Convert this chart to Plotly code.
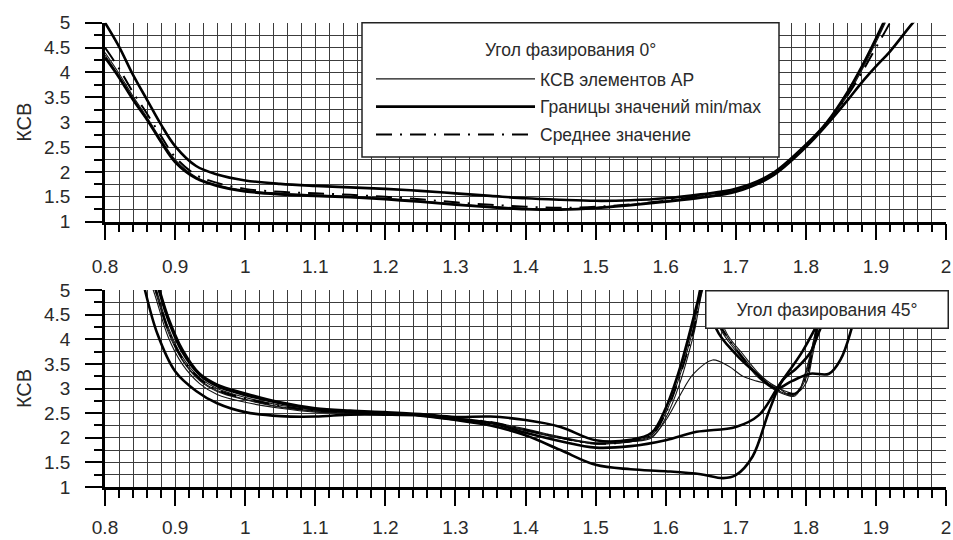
import plotly.graph_objects as go

# ---------------- data ----------------
# Top panel (phase angle 0°)
x_top = [0.80, 0.82, 0.84, 0.86, 0.88, 0.90, 0.93, 0.96, 1.00, 1.05, 1.10, 1.15, 1.20, 1.25,
         1.30, 1.35, 1.40, 1.45, 1.50, 1.55, 1.60, 1.65, 1.70, 1.75, 1.80, 1.83, 1.86, 1.88,
         1.90, 1.92, 1.95, 1.98]
top_elem_1 = [4.40, 3.98, 3.52, 3.10, 2.65, 2.25, 1.90, 1.74, 1.63, 1.57, 1.54, 1.51, 1.47, 1.42,
              1.36, 1.31, 1.27, 1.26, 1.29, 1.35, 1.42, 1.50, 1.62, 1.92, 2.52, 2.98, 3.55, 4.05,
              4.60, 5.20, 6.10, 7.00]
top_elem_2 = [4.35, 3.93, 3.48, 3.07, 2.62, 2.22, 1.88, 1.73, 1.62, 1.56, 1.53, 1.50, 1.46, 1.41,
              1.35, 1.30, 1.26, 1.25, 1.28, 1.34, 1.41, 1.52, 1.64, 1.94, 2.55, 3.00, 3.60, 4.10,
              4.65, 5.25, 6.20, 7.10]
top_max = [5.00, 4.52, 3.95, 3.45, 2.95, 2.52, 2.12, 1.95, 1.83, 1.76, 1.72, 1.69, 1.66, 1.62,
           1.57, 1.52, 1.47, 1.44, 1.42, 1.43, 1.47, 1.55, 1.66, 1.95, 2.55, 3.00, 3.62, 4.12,
           4.68, 5.28, 6.25, 7.20]
top_min = [4.30, 3.90, 3.45, 3.05, 2.60, 2.20, 1.87, 1.72, 1.61, 1.55, 1.52, 1.49, 1.45, 1.40,
           1.34, 1.29, 1.25, 1.24, 1.27, 1.33, 1.40, 1.48, 1.60, 1.90, 2.50, 2.95, 3.45, 3.80,
           4.12, 4.42, 4.95, 5.45]
top_mean = [4.50, 4.08, 3.60, 3.17, 2.72, 2.30, 1.94, 1.78, 1.66, 1.60, 1.57, 1.54, 1.50, 1.45,
            1.39, 1.34, 1.30, 1.28, 1.30, 1.35, 1.42, 1.52, 1.64, 1.93, 2.53, 2.98, 3.55, 4.00,
            4.50, 5.00, 5.90, 6.80]

# Bottom panel (phase angle 45°)
x_bot_e = [0.85, 0.87, 0.89, 0.91, 0.935, 0.96, 1.00, 1.05, 1.10, 1.15, 1.20, 1.25, 1.30, 1.35,
           1.40, 1.45, 1.50, 1.55, 1.58, 1.60, 1.62, 1.64, 1.657, 1.675, 1.69, 1.71, 1.73, 1.75,
           1.77, 1.785, 1.80, 1.81, 1.82, 1.835]
bot_elem_1 = [5.90, 5.15, 4.25, 3.65, 3.22, 3.00, 2.82, 2.66, 2.56, 2.52, 2.50, 2.47, 2.40, 2.32,
              2.18, 2.02, 1.90, 1.95, 2.10, 2.60, 3.35, 4.35, 5.40, 4.30, 3.95, 3.60, 3.25, 3.02,
              2.88, 2.85, 3.30, 3.90, 4.60, 5.50]
bot_elem_2 = [5.80, 5.05, 4.15, 3.58, 3.16, 2.94, 2.77, 2.62, 2.54, 2.51, 2.49, 2.46, 2.39, 2.30,
              2.15, 2.00, 1.88, 1.93, 2.05, 2.50, 3.25, 4.25, 5.30, 4.40, 4.00, 3.65, 3.30, 3.05,
              2.90, 2.88, 3.20, 3.80, 4.50, 5.40]
bot_elem_3 = [5.70, 4.95, 4.05, 3.50, 3.10, 2.88, 2.72, 2.60, 2.52, 2.50, 2.48, 2.45, 2.38, 2.30,
              2.14, 1.99, 1.88, 1.92, 2.00, 2.40, 3.10, 4.10, 5.10, 4.50, 4.05, 3.70, 3.35, 3.10,
              2.95, 2.90, 3.10, 3.70, 4.40, 5.30]
bot_mean = [5.85, 5.10, 4.20, 3.62, 3.20, 2.97, 2.80, 2.65, 2.55, 2.52, 2.49, 2.46, 2.39, 2.32,
            2.16, 2.00, 1.88, 1.93, 2.06, 2.50, 3.25, 4.20, 5.20, 4.35, 4.00, 3.62, 3.28, 3.05,
            2.92, 2.90, 3.22, 3.80, 4.50, 5.40]

x_bot_hump = [0.85, 0.87, 0.89, 0.91, 0.935, 0.96, 1.00, 1.05, 1.10, 1.15, 1.20, 1.25, 1.30, 1.35,
              1.40, 1.45, 1.50, 1.55, 1.58, 1.60, 1.62, 1.64, 1.667, 1.69, 1.71, 1.73, 1.757, 1.78,
              1.79, 1.80, 1.81, 1.82, 1.835]
bot_elem_hump = [5.80, 5.10, 4.20, 3.60, 3.18, 2.96, 2.78, 2.63, 2.54, 2.51, 2.49, 2.46, 2.39, 2.31,
                 2.16, 2.00, 1.88, 1.92, 2.02, 2.35, 2.85, 3.30, 3.58, 3.45, 3.25, 3.15, 3.04, 2.85,
                 2.95, 3.35, 3.90, 4.55, 5.50]

x_bot_min = [0.845, 0.857, 0.875, 0.90, 0.93, 0.96, 1.00, 1.05, 1.10, 1.15, 1.20, 1.25, 1.30, 1.35,
             1.40, 1.45, 1.50, 1.55, 1.60, 1.65, 1.682, 1.70, 1.724, 1.748, 1.767, 1.786, 1.806,
             1.82, 1.84, 1.86]
bot_min = [5.80, 5.00, 4.10, 3.35, 2.95, 2.70, 2.52, 2.44, 2.43, 2.47, 2.47, 2.45, 2.36, 2.25,
           2.05, 1.75, 1.45, 1.36, 1.32, 1.26, 1.18, 1.24, 1.62, 2.56, 3.17, 3.40, 3.72, 4.19,
           4.80, 5.50]

x_bot_mid = [0.85, 0.87, 0.89, 0.91, 0.935, 0.96, 1.00, 1.05, 1.10, 1.15, 1.20, 1.25, 1.30, 1.35,
             1.40, 1.45, 1.50, 1.55, 1.60, 1.644, 1.70, 1.733, 1.762, 1.795, 1.82, 1.845]
bot_mid = [6.00, 5.30, 4.40, 3.75, 3.28, 3.05, 2.87, 2.70, 2.58, 2.53, 2.50, 2.46, 2.37, 2.30,
           2.10, 1.93, 1.80, 1.83, 1.95, 2.12, 2.22, 2.46, 3.07, 3.75, 4.40, 5.10]

x_bot_max = [0.85, 0.87, 0.89, 0.91, 0.935, 0.96, 1.00, 1.05, 1.10, 1.15, 1.20, 1.25, 1.30, 1.35,
             1.40, 1.45, 1.50, 1.55, 1.58, 1.60, 1.62, 1.645, 1.657, 1.672, 1.70, 1.73, 1.757,
             1.78, 1.806, 1.833, 1.85, 1.866, 1.88, 1.90]
bot_max = [6.10, 5.35, 4.45, 3.80, 3.30, 3.08, 2.90, 2.72, 2.60, 2.55, 2.52, 2.48, 2.42, 2.43,
           2.36, 2.22, 1.95, 1.96, 2.10, 2.60, 3.40, 4.73, 5.40, 4.22, 3.70, 3.30, 3.00, 3.15,
           3.30, 3.30, 3.60, 4.25, 5.00, 6.00]

x_tick_vals = [0.8, 0.9, 1.0, 1.1, 1.2, 1.3, 1.4, 1.5, 1.6, 1.7, 1.8, 1.9, 2.0]
x_tick_text = ["0.8", "0.9", "1", "1.1", "1.2", "1.3", "1.4", "1.5", "1.6", "1.7", "1.8", "1.9", "2"]
y_tick_vals = [1, 1.5, 2, 2.5, 3, 3.5, 4, 4.5, 5]
y_tick_text = ["1", "1.5", "2", "2.5", "3", "3.5", "4", "4.5", "5"]

legend_title = "Угол фазирования 0°"
label_elem = "КСВ элементов АР"
label_minmax = "Границы значений min/max"
label_mean = "Среднее значение"
label_45 = "Угол фазирования 45°"
y_title = "КСВ"

# ---------------- figure ----------------
W, H = 953, 540
ML, MR = 105, 7
PW = W - ML - MR


def px_x(p):
    """pixel column -> plot-area paper fraction"""
    return (p - ML) / PW


def px_y(p):
    """pixel row -> paper fraction (no top/bottom margins)"""
    return 1 - p / H


FONT = "Liberation Sans, Arial, sans-serif"
TXT = "#2a2a2a"
THIN = dict(color="#151515", width=1.1, shape="spline")
THICK = dict(color="#000000", width=2.6, shape="spline")
MEAN = dict(color="#000000", width=2.0, dash="16px,8px,2px,8px", shape="spline")

fig = go.Figure()

# top panel
fig.add_trace(go.Scatter(x=x_top, y=top_elem_1, mode="lines", line=THIN, name=label_elem,
                         legendgroup="a", showlegend=True, xaxis="x", yaxis="y"))
fig.add_trace(go.Scatter(x=x_top, y=top_elem_2, mode="lines", line=THIN, name=label_elem,
                         legendgroup="a", showlegend=False, xaxis="x", yaxis="y"))
fig.add_trace(go.Scatter(x=x_top, y=top_max, mode="lines", line=THICK, name=label_minmax,
                         legendgroup="b", showlegend=True, xaxis="x", yaxis="y"))
fig.add_trace(go.Scatter(x=x_top, y=top_min, mode="lines", line=THICK, name=label_minmax,
                         legendgroup="b", showlegend=False, xaxis="x", yaxis="y"))
fig.add_trace(go.Scatter(x=x_top, y=top_mean, mode="lines", line=MEAN, name=label_mean,
                         legendgroup="c", showlegend=True, xaxis="x", yaxis="y"))

# bottom panel
for yy in [bot_elem_1, bot_elem_2, bot_elem_3]:
    fig.add_trace(go.Scatter(x=x_bot_e, y=yy, mode="lines", line=THIN, showlegend=False,
                             xaxis="x2", yaxis="y2"))
fig.add_trace(go.Scatter(x=x_bot_hump, y=bot_elem_hump, mode="lines", line=THIN,
                         showlegend=False, xaxis="x2", yaxis="y2"))
fig.add_trace(go.Scatter(x=x_bot_e, y=bot_mean, mode="lines", line=MEAN, showlegend=False,
                         xaxis="x2", yaxis="y2"))
fig.add_trace(go.Scatter(x=x_bot_min, y=bot_min, mode="lines", line=THICK, showlegend=False,
                         xaxis="x2", yaxis="y2"))
fig.add_trace(go.Scatter(x=x_bot_mid, y=bot_mid, mode="lines", line=THICK, showlegend=False,
                         xaxis="x2", yaxis="y2"))
fig.add_trace(go.Scatter(x=x_bot_max, y=bot_max, mode="lines", line=THICK, showlegend=False,
                         xaxis="x2", yaxis="y2"))

GRID = "#3c3c3c"


def x_axis(standoff):
    return dict(
        range=[0.8, 2.0], tickmode="array", tickvals=x_tick_vals, ticktext=x_tick_text,
        ticks="outside", ticklen=16, tickwidth=2, tickcolor="black",
        showgrid=True, gridcolor=GRID, gridwidth=1.3,
        minor=dict(tickmode="linear", tick0=0.8, dtick=0.02, ticks="outside", ticklen=8,
                   tickwidth=2, tickcolor="black", showgrid=True, gridcolor=GRID, gridwidth=1.3),
        showline=True, linecolor="black", linewidth=2.5, zeroline=False,
        tickfont=dict(family=FONT, size=19, color=TXT), ticklabelstandoff=standoff,
        ticklabeloverflow="allow", automargin=False,
    )


yaxis_common = dict(
    range=[1, 5], tickmode="array", tickvals=y_tick_vals, ticktext=y_tick_text,
    ticks="outside", ticklen=17, tickwidth=2, tickcolor="black",
    showgrid=True, gridcolor=GRID, gridwidth=1.3,
    minor=dict(tickmode="linear", tick0=1, dtick=0.25, ticks="outside", ticklen=8,
               tickwidth=2, tickcolor="black", showgrid=True, gridcolor=GRID, gridwidth=1.3),
    showline=True, linecolor="black", linewidth=2.5, zeroline=False,
    tickfont=dict(family=FONT, size=19, color=TXT), ticklabelstandoff=11,
    title=dict(text=y_title, font=dict(family=FONT, size=20, color=TXT), standoff=8),
    automargin=False,
)

fig.update_layout(
    width=W, height=H,
    margin=dict(l=ML, r=MR, t=0, b=0, autoexpand=False),
    paper_bgcolor="white", plot_bgcolor="white",
    xaxis=dict(domain=[0, 1], anchor="y", **x_axis(10)),
    yaxis=dict(domain=[px_y(221.7), px_y(22.7)], anchor="x", **yaxis_common),
    xaxis2=dict(domain=[0, 1], anchor="y2", **x_axis(5)),
    yaxis2=dict(domain=[px_y(487), px_y(290)], anchor="x2", **yaxis_common),
    legend=dict(
        x=px_x(371), y=px_y(61), xanchor="left", yanchor="top",
        bgcolor="rgba(0,0,0,0)", borderwidth=0,
        font=dict(family=FONT, size=17.5, color=TXT),
        itemwidth=159, traceorder="grouped", tracegroupgap=2,
    ),
    showlegend=True,
    shapes=[dict(
        type="rect", xref="paper", yref="paper", layer="above",
        x0=px_x(362), x1=px_x(779), y0=px_y(157), y1=px_y(22.7),
        fillcolor="white", line=dict(color="#222", width=1.5),
    )],
    annotations=[
        dict(text=legend_title, xref="paper", yref="paper", x=px_x(570), y=px_y(50),
             xanchor="center", yanchor="middle", showarrow=False,
             font=dict(family=FONT, size=17.5, color=TXT)),
        dict(text=label_45, xref="paper", yref="paper", x=px_x(826.5), y=px_y(309),
             xanchor="center", yanchor="middle", showarrow=False,
             font=dict(family=FONT, size=17.5, color=TXT),
             bgcolor="white", bordercolor="#222", borderwidth=1.5, borderpad=1,
             width=239, height=34),
    ],
)

fig.write_html("out.html")
